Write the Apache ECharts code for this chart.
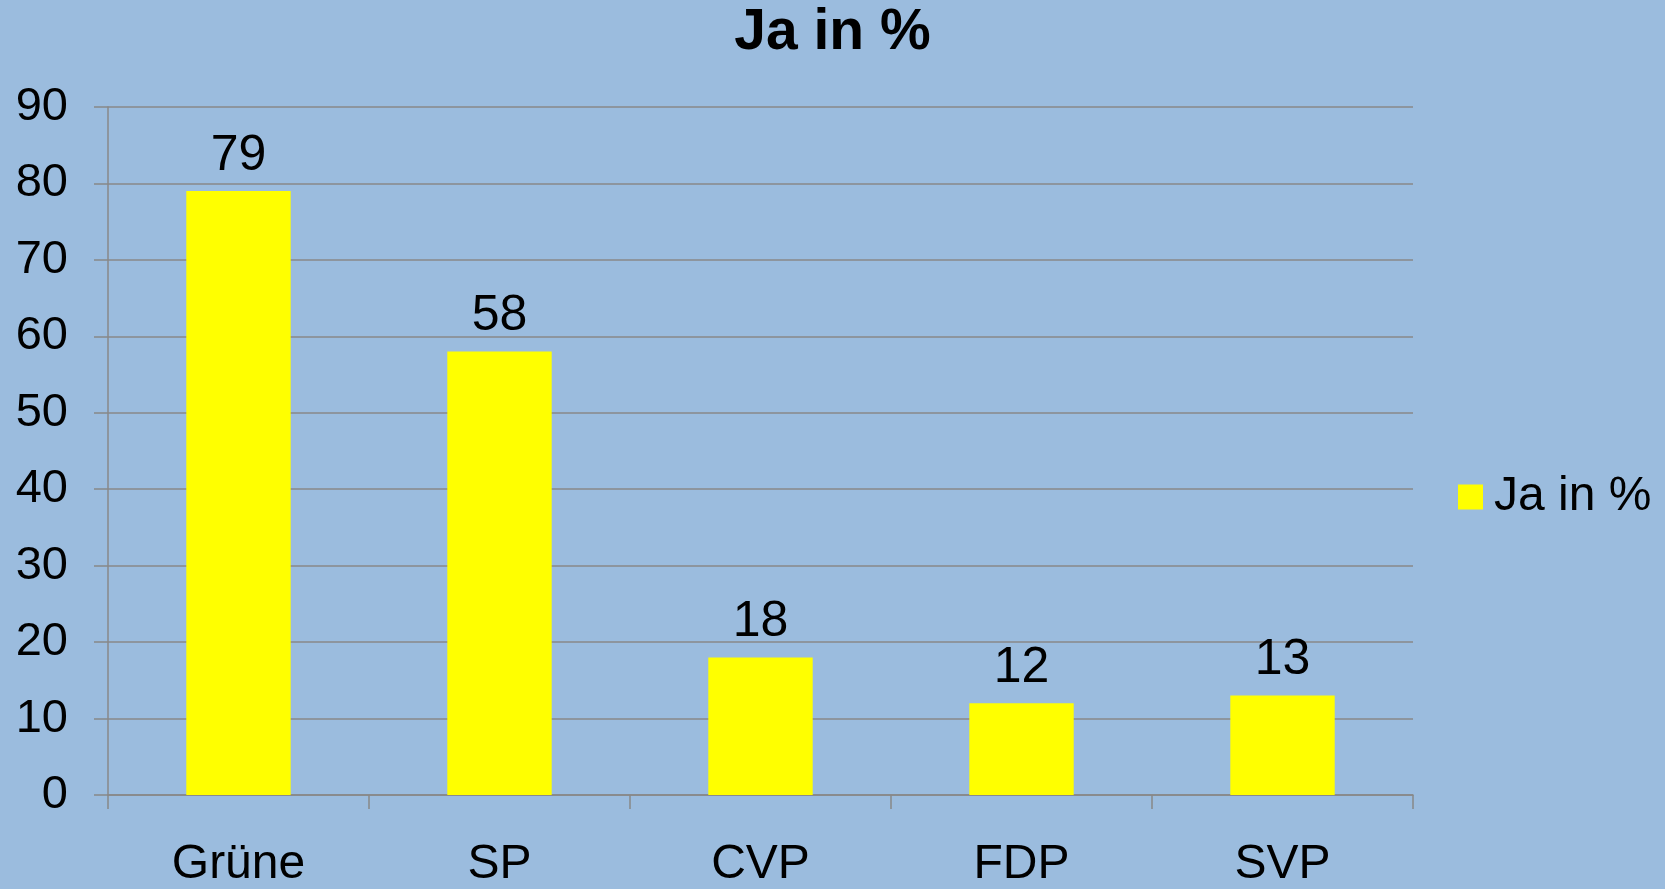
<!DOCTYPE html>
<html>
<head>
<meta charset="utf-8">
<script src="https://cdn.jsdelivr.net/npm/echarts@6/dist/echarts.min.js"></script>
<style>
  html, body { margin: 0; padding: 0; background: #9bbcde; }
  #main { width: 1665px; height: 889px; }
</style>
</head>
<body>
<div id="main"></div>
<script>
var parties = ['Grüne', 'SP', 'CVP', 'FDP', 'SVP'];
var jaValues = [79, 58, 18, 12, 13];
var seriesName = 'Ja in %';

var chart = echarts.init(document.getElementById('main'));

var font = '"Liberation Sans", Arial, sans-serif';

var option = {
  backgroundColor: '#9bbcde',
  animation: false,
  title: {
    text: 'Ja in %',
    left: 'center',
    top: 5,
    padding: 0,
    textStyle: {
      fontFamily: font,
      fontSize: 57,
      fontWeight: 'bold',
      color: '#000'
    }
  },
  legend: {
    orient: 'vertical',
    left: 1458,
    top: 473,
    padding: 0,
    itemWidth: 25,
    itemHeight: 25,
    data: [{ name: seriesName, icon: 'rect' }],
    textStyle: {
      fontFamily: font,
      fontSize: 48,
      color: '#000',
      padding: [0, 0, 0, 6]
    }
  },
  grid: {
    left: 108,
    right: 252,
    top: 107,
    bottom: 91,
    containLabel: false
  },
  xAxis: {
    type: 'category',
    data: parties,
    axisLine: { lineStyle: { color: '#888888', width: 1.5 } },
    axisTick: { show: true, length: 14, lineStyle: { color: '#888888', width: 1.5 } },
    axisLabel: {
      margin: 46,
      fontFamily: font,
      fontSize: 48,
      color: '#000'
    }
  },
  yAxis: {
    type: 'value',
    min: 0,
    max: 90,
    interval: 10,
    axisLine: { show: true, lineStyle: { color: '#888888', width: 1.5 } },
    axisTick: { show: true, length: 14, lineStyle: { color: '#888888', width: 1.5 } },
    splitLine: { show: true, lineStyle: { color: '#888888', width: 1.5 } },
    axisLabel: {
      margin: 40,
      fontFamily: font,
      fontSize: 47,
      color: '#000'
    }
  },
  series: [{
    name: seriesName,
    type: 'bar',
    data: jaValues,
    barWidth: '40%',
    itemStyle: { color: '#ffff00' },
    label: {
      show: true,
      position: 'top',
      distance: 10,
      fontFamily: font,
      fontSize: 50,
      color: '#000'
    }
  }]
};

chart.setOption(option);
</script>
</body>
</html>
